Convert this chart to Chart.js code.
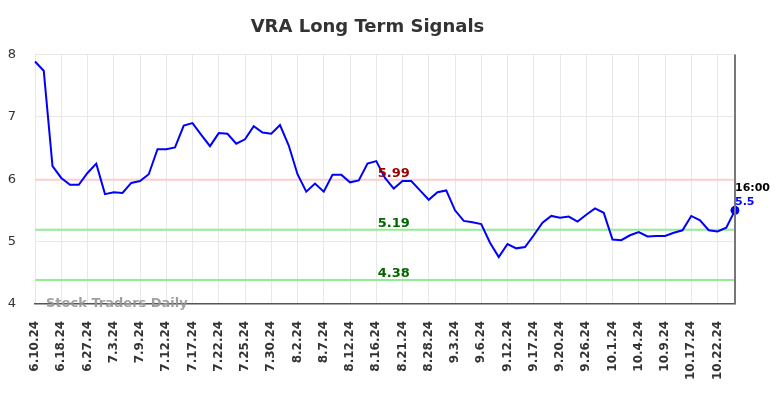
<!DOCTYPE html>
<html>
<head>
<meta charset="utf-8">
<script src="https://cdn.jsdelivr.net/npm/chart.js@4.4.1/dist/chart.umd.min.js"></script>
<style>
  html, body { margin: 0; padding: 0; background: #fff; }
  #wrap { width: 784px; height: 398px; }
</style>
</head>
<body>
<div id="wrap"><canvas id="canvas" width="784" height="398"></canvas></div>
<script>
// dates (every 3rd one is shown on the axis)
const dates = [
  '6.10.24','6.12.24','6.14.24','6.18.24','6.21.24','6.25.24','6.27.24','6.28.24','7.1.24',
  '7.3.24','7.5.24','7.8.24','7.9.24','7.10.24','7.11.24','7.12.24','7.15.24','7.16.24',
  '7.17.24','7.18.24','7.19.24','7.22.24','7.23.24','7.24.24','7.25.24','7.26.24','7.29.24',
  '7.30.24','7.31.24','8.1.24','8.2.24','8.5.24','8.6.24','8.7.24','8.8.24','8.9.24',
  '8.12.24','8.13.24','8.14.24','8.16.24','8.19.24','8.20.24','8.21.24','8.23.24','8.26.24',
  '8.28.24','8.29.24','8.30.24','9.3.24','9.4.24','9.5.24','9.6.24','9.9.24','9.11.24',
  '9.12.24','9.13.24','9.16.24','9.17.24','9.18.24','9.19.24','9.20.24','9.23.24','9.25.24',
  '9.26.24','9.27.24','9.30.24','10.1.24','10.2.24','10.3.24','10.4.24','10.7.24','10.8.24',
  '10.9.24','10.11.24','10.15.24','10.17.24','10.18.24','10.21.24','10.22.24','10.24.24','10.28.24'
];
const prices = [
  7.89, 7.74, 6.21, 6.02, 5.91, 5.91, 6.10, 6.25, 5.76, 5.79, 5.78, 5.94, 5.97, 6.08, 6.48, 6.48, 6.51,
  6.86, 6.90, 6.71, 6.53, 6.74, 6.73, 6.57, 6.64, 6.85, 6.75, 6.73, 6.87, 6.54, 6.08, 5.80, 5.93,
  5.80, 6.07, 6.07, 5.95, 5.98, 6.25, 6.29, 6.02, 5.85, 5.97, 5.97, 5.82, 5.67, 5.79, 5.82, 5.50,
  5.33, 5.31, 5.28, 4.98, 4.75, 4.96, 4.89, 4.91, 5.10, 5.30, 5.41, 5.38, 5.40, 5.32, 5.43, 5.53,
  5.46, 5.03, 5.02, 5.10, 5.15, 5.08, 5.09, 5.09, 5.14, 5.18, 5.41, 5.34, 5.18, 5.16, 5.22, 5.50
];
const signalValues = [5.99, 5.19, 4.38];
const signalLines = ['#ffcccc', '#90ee90', '#90ee90'];
const signalText = ['#990000', '#006600', '#006600'];
const yTicks = [4, 5, 6, 7, 8];
const lastTime = '16:00';

const font = 'DejaVu Sans';

const signals = {
  id: 'signals',
  beforeDatasetsDraw(chart) {
    const { ctx, chartArea, scales } = chart;
    ctx.save();
    signalValues.forEach((v, i) => {
      const y = scales.y.getPixelForValue(v);
      ctx.strokeStyle = signalLines[i];
      ctx.lineWidth = 2;
      ctx.beginPath();
      ctx.moveTo(chartArea.left, y);
      ctx.lineTo(chartArea.right, y);
      ctx.stroke();
    });
    ctx.restore();
  },
  afterDatasetsDraw(chart) {
    const { ctx, chartArea, scales } = chart;
    ctx.save();
    ctx.font = 'bold 13px ' + font;
    ctx.textAlign = 'center';
    ctx.textBaseline = 'alphabetic';
    const cx = scales.x.getPixelForValue(41);
    signalValues.forEach((v, i) => {
      const y = scales.y.getPixelForValue(v);
      ctx.fillStyle = signalText[i];
      ctx.fillText(v.toFixed(2), cx, y - 3);
    });
    // last value marker line
    const last = prices.length - 1;
    const lx = scales.x.getPixelForValue(last);
    const ly = scales.y.getPixelForValue(prices[last]);
    ctx.strokeStyle = '#777';
    ctx.lineWidth = 2;
    ctx.beginPath();
    ctx.moveTo(lx, chartArea.top);
    ctx.lineTo(lx, chartArea.bottom);
    ctx.stroke();
    ctx.textAlign = 'left';
    ctx.font = 'bold 11px ' + font;
    ctx.fillStyle = '#000';
    ctx.fillText(lastTime, lx, ly - 19);
    ctx.fillStyle = '#0000ff';
    ctx.fillText(String(prices[last]), lx, ly - 5);
    // watermark
    ctx.font = 'bold 13px ' + font;
    ctx.fillStyle = 'rgba(150,150,150,0.9)';
    ctx.textBaseline = 'middle';
    ctx.fillText('Stock Traders Daily', chartArea.left + 11, chartArea.bottom);
    ctx.restore();
  }
};

new Chart(document.getElementById('canvas').getContext('2d'), {
  type: 'line',
  data: {
    labels: dates,
    datasets: [{
      data: prices,
      borderColor: '#0000ff',
      borderWidth: 2,
      tension: 0,
      pointRadius: prices.map((p, i) => i === prices.length - 1 ? 4.5 : 0),
      pointBackgroundColor: '#0000ff',
      pointBorderWidth: 0
    }]
  },
  options: {
    responsive: false,
    animation: false,
    layout: { padding: { left: 0, right: 49, top: 0, bottom: 1 } },
    plugins: {
      legend: { display: false },
      tooltip: { enabled: false },
      title: {
        display: true,
        text: 'VRA Long Term Signals',
        color: '#333',
        font: { family: font, size: 18, weight: 'bold' },
        padding: { top: 17, bottom: 16 }
      }
    },
    scales: {
      x: {
        grid: { color: '#e8e8e8', drawTicks: false },
        border: { color: '#555', width: 1.5 },
        ticks: {
          autoSkip: false,
          maxRotation: 90,
          minRotation: 90,
          padding: 17,
          color: '#333',
          font: { family: font, size: 12, weight: 'bold' },
          callback: (v, i) => i % 3 === 0 ? dates[i] : null
        }
      },
      y: {
        min: yTicks[0],
        max: yTicks[yTicks.length - 1],
        grid: { color: '#e8e8e8', drawTicks: false },
        border: { display: false },
        afterBuildTicks: (s) => { s.ticks = yTicks.map(v => ({ value: v })); },
        afterFit: (s) => { s.width = 35; },
        ticks: {
          padding: 19,
          color: '#333',
          font: { family: font, size: 13 }
        }
      }
    }
  },
  plugins: [signals]
});
</script>
</body>
</html>
